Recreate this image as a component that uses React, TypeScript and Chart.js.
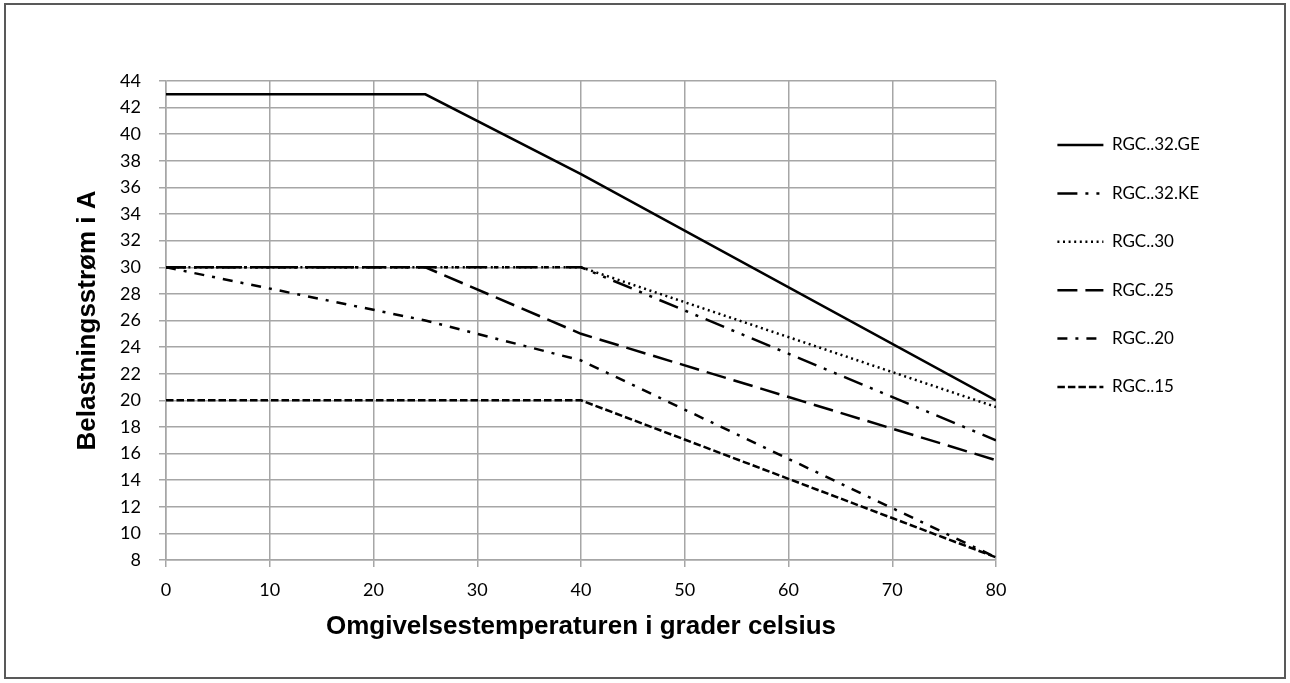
import React, { useEffect, useRef } from 'react';
import { Chart, registerables } from 'chart.js';

Chart.register(...registerables);

// ---- data ----
const seriesLabels = ['RGC..32.GE', 'RGC..32.KE', 'RGC..30', 'RGC..25', 'RGC..20', 'RGC..15'];
const geX = [0, 25, 40, 80];
const geY = [43, 43, 37, 20];
const keX = [0, 40, 80];
const keY = [30, 30, 17];
const s30X = [0, 40, 80];
const s30Y = [30, 30, 19.5];
const s25X = [0, 25, 40, 80];
const s25Y = [30, 30, 25, 15.5];
const s20X = [0, 25, 40, 80];
const s20Y = [30, 26, 23, 8.2];
const s15X = [0, 40, 80];
const s15Y = [20, 20, 8.2];

const xMin = 0;
const xMax = 80;
const xStep = 10;
const yMin = 8;
const yMax = 44;
const yStep = 2;

const xTitle = 'Omgivelsestemperaturen i grader celsius';
const yTitle = 'Belastningsstrøm i A';

// ---- styles ----
const dashes: number[][] = [
  [],
  [20, 8, 3, 8, 3, 8],
  [2, 3.6],
  [20, 8],
  [10, 8, 3, 8],
  [7.5, 3],
];

const seriesX = [geX, keX, s30X, s25X, s20X, s15X];
const seriesY = [geY, keY, s30Y, s25Y, s20Y, s15Y];

const CANVAS_W = 1278;
const CANVAS_H = 672;
const AREA_RIGHT = 990;
const GAP_W = 30;
const LEG_FONT = 17;
const LEG_PAD = 31.4;
const LEG_LINE_W = 46;

export default function App() {
  const ref = useRef<HTMLCanvasElement | null>(null);

  useEffect(() => {
    if (!ref.current) return;
    const gridColor = '#a6a6a6';

    const mctx = document.createElement('canvas').getContext('2d') as CanvasRenderingContext2D;
    mctx.font = `${LEG_FONT}px Lato`;
    const tw = Math.max(...seriesLabels.map((l) => mctx.measureText(l).width));
    const legendW = LEG_PAD + LEG_LINE_W + LEG_FONT / 2 + tw + 10;
    const padRight = Math.max(0, CANVAS_W - AREA_RIGHT - GAP_W - legendW);

    const datasets = seriesLabels.map((label, i) => ({
      label,
      data: seriesX[i].map((x, j) => ({ x, y: seriesY[i][j] })),
      borderColor: '#000',
      backgroundColor: '#000',
      borderWidth: 2.5,
      borderDash: dashes[i],
      pointRadius: 0,
      pointHoverRadius: 0,
      tension: 0,
      fill: false,
      yAxisID: 'y',
    }));

    const chart = new Chart(ref.current, {
      type: 'line',
      data: { datasets },
      options: {
        animation: false,
        responsive: false,
        devicePixelRatio: 1,
        layout: { padding: { top: 76, left: 0, right: padRight, bottom: 0 } },
        plugins: {
          tooltip: { enabled: false },
          legend: {
            position: 'right',
            align: 'start',
            fullSize: false,
            maxWidth: 600,
            title: {
              display: true,
              text: '',
              font: { size: 12 },
              padding: { top: 9.7, bottom: 0 },
            },
            labels: {
              usePointStyle: true,
              pointStyle: 'line',
              pointStyleWidth: LEG_LINE_W,
              padding: LEG_PAD,
              color: '#000',
              font: { family: 'Lato', size: LEG_FONT },
              generateLabels: (c: any) => {
                const items = Chart.defaults.plugins.legend.labels.generateLabels(c);
                items.forEach((it: any) => {
                  const ds: any = c.data.datasets[it.datasetIndex];
                  it.lineWidth = 2.5;
                  it.lineDash = ds.borderDash || [];
                  it.strokeStyle = '#000';
                  it.fillStyle = '#000';
                  it.pointStyle = 'line';
                  it.lineCap = 'butt';
                });
                return items;
              },
            },
          },
        },
        scales: {
          x: {
            type: 'linear',
            min: xMin,
            max: xMax,
            afterFit: (s: any) => {
              s.height = 117;
            },
            ticks: {
              stepSize: xStep,
              color: '#000',
              padding: 12,
              font: { family: 'Lato', size: 18 },
            },
            grid: { color: gridColor, lineWidth: 1.5, tickLength: 7 },
            border: { color: gridColor, width: 1.5 },
            title: {
              display: true,
              text: xTitle,
              color: '#000',
              font: { family: 'Liberation Sans', size: 26, weight: 'bold' },
              padding: { top: 0, bottom: 34.4 },
            },
          },
          y: {
            type: 'linear',
            position: 'left',
            min: yMin,
            max: yMax,
            afterFit: (s: any) => {
              s.width = 160;
            },
            ticks: {
              stepSize: yStep,
              color: '#000',
              padding: 18,
              font: { family: 'Lato', size: 18 },
            },
            grid: { color: gridColor, lineWidth: 1.5, tickLength: 7 },
            border: { color: gridColor, width: 1.5 },
            title: {
              display: true,
              text: yTitle,
              color: '#000',
              font: { family: 'Liberation Sans', size: 26, weight: 'bold' },
              padding: { top: 66.4, bottom: 0 },
            },
          },
          yGap: {
            type: 'linear',
            position: 'right',
            display: true,
            afterFit: (s: any) => {
              s.width = GAP_W;
            },
            grid: { display: false, drawTicks: false },
            ticks: { display: false },
            border: { display: false },
          },
        },
      },
    } as any);

    // fine-tune so the plot area's right edge lands where the reference has it
    const diff = AREA_RIGHT - chart.chartArea.right;
    if (Math.abs(diff) > 0.5) {
      (chart.options as any).layout.padding.right = Math.max(0, padRight - diff);
      chart.update();
    }

    return () => chart.destroy();
  }, []);

  return (
    <div
      style={{
        position: 'absolute',
        left: 4,
        top: 3,
        width: CANVAS_W,
        height: CANVAS_H,
        border: '2px solid #595959',
        background: '#fff',
      }}
    >
      <canvas
        ref={ref}
        width={CANVAS_W}
        height={CANVAS_H}
        style={{ display: 'block', width: CANVAS_W, height: CANVAS_H }}
      />
    </div>
  );
}
